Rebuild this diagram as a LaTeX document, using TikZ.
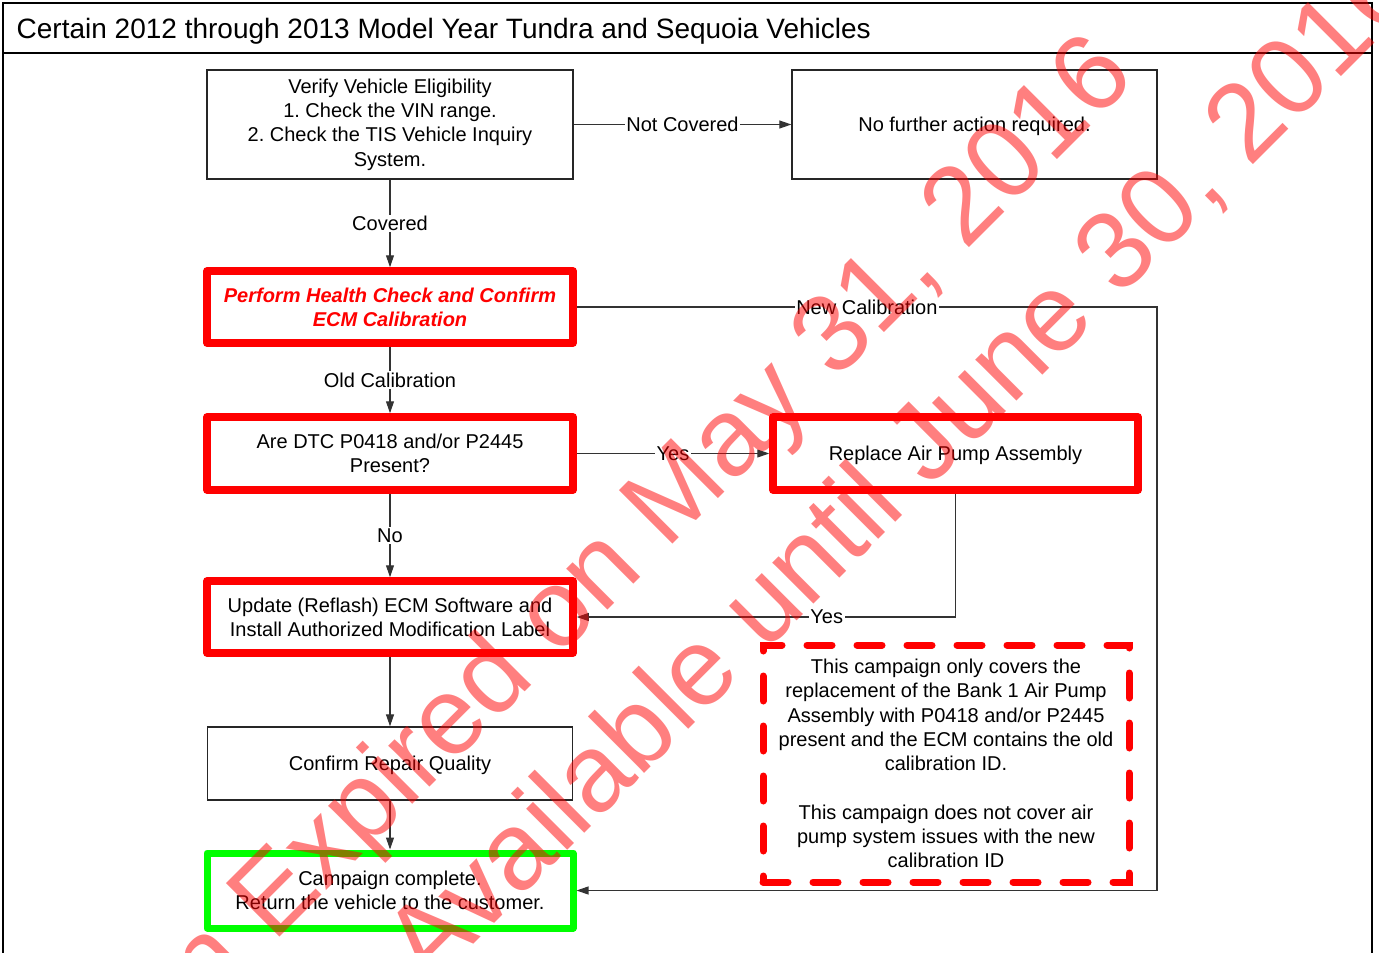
\documentclass[tikz,border=0pt]{standalone}
\usepackage{fontspec}
\setmainfont{Liberation Sans}
\usetikzlibrary{arrows.meta}
\definecolor{okgreen}{RGB}{0,255,0}
\frenchspacing

\begin{document}
\begin{tikzpicture}[x=1pt, y=-1pt,
    every node/.style={font=\fontsize{20}{24.3}\selectfont, align=center, inner sep=0pt},
    plainbox/.style={rectangle, draw=black!85, line width=1.3pt, minimum width=366pt, minimum height=73pt},
    redbox/.style={rectangle, draw=red, line width=7.5pt, line join=round, minimum width=366pt, minimum height=73pt},
    greenbox/.style={redbox, draw=okgreen, line width=7pt},
    notebox/.style={rectangle, draw=red, line width=7pt, line cap=round, dash pattern=on 25pt off 25pt, minimum width=366pt, minimum height=237pt},
    sink/.style={execute at begin node={\rule{0pt}{18.5pt}}},
    flow/.style={draw=black!80, line width=1.1pt, -{Triangle[length=12pt,width=8pt]}},
    lbl/.style={fill=white, inner sep=1.5pt},
    stamp/.style={rotate=45, text=red, text opacity=0.5, font=\fontsize{110}{120}\selectfont, anchor=base}]
    \useasboundingbox (0,0) rectangle (1379,953);
    \clip (0,0) rectangle (1379,953);

    % Frame and title
    \draw[line width=2.5pt] (3,3) rectangle (1372,975);
    \draw[line width=2.5pt] (3,53) -- (1372,53);
    \node[anchor=base west, font=\fontsize{28}{32}\selectfont] (title) at (16.5,38) {Certain 2012 through 2013 Model Year Tundra and Sequoia Vehicles};

    % Nodes
    \node[plainbox, sink, minimum height=109pt] (verify) at (390,124.5) {Verify Vehicle Eligibility\\1. Check the VIN range.\\2. Check the TIS Vehicle Inquiry\\System.};
    \node[plainbox, sink, minimum width=365pt, minimum height=109pt] (nofurther) at (974.5,124.5) {No further action required.};
    \node[redbox, minimum height=72pt, text=red, font=\fontsize{20}{24.3}\selectfont\bfseries\itshape] (health) at (390,307) {Perform Health Check and Confirm\\ECM Calibration};
    \node[redbox] (dtc) at (390,453.5) {Are DTC P0418 and/or P2445\\Present?};
    \node[redbox, sink, minimum width=365pt] (replace) at (955.5,453.5) {Replace Air Pump Assembly};
    \node[redbox, minimum height=72pt] (update) at (390,617) {Update (Reflash) ECM Software and\\Install Authorized Modification Label};
    \node[plainbox, sink, minimum width=365pt] (confirm) at (390,763.5) {Confirm Repair Quality};
    \node[greenbox, minimum height=75pt] (done) at (390,890.5) {Campaign complete.\\Return the vehicle to the customer.};
    \node[notebox] (note) at (946,763.5) {This campaign only covers the\\replacement of the Bank 1 Air Pump\\Assembly with P0418 and/or P2445\\present and the ECM contains the old\\calibration ID.\\[24.3pt]This campaign does not cover air\\pump system issues with the new\\calibration ID};
    \coordinate (lane) at (1157,0);

    % Edges with labels
    \draw[flow] (verify) -- node[lbl] {Not Covered} (nofurther);
    \draw[flow] (verify) -- node[lbl] {Covered} (health);
    \draw[flow] (health) -- node[lbl] {Old Calibration} (dtc);
    \draw[flow] (dtc) -- node[lbl] {Yes} (replace);
    \draw[flow] (dtc) -- node[lbl] {No} (update);
    \draw[flow] (replace.south) |- node[lbl, pos=0.67] {Yes} (update.east);
    \draw[flow] (update) -- (confirm);
    \draw[flow] (confirm) -- (done);
    \draw[flow] (health.east) -- node[lbl] {New Calibration} (health.east -| lane) |- (done.east);

    % Watermark
    \node[stamp] (expired) at (706,511) {\llap{Campaign\ }Expired on May 31, 2016};
    \node[stamp] (available) at (926,492) {Available until June 30, 2016};
\end{tikzpicture}
\end{document}
